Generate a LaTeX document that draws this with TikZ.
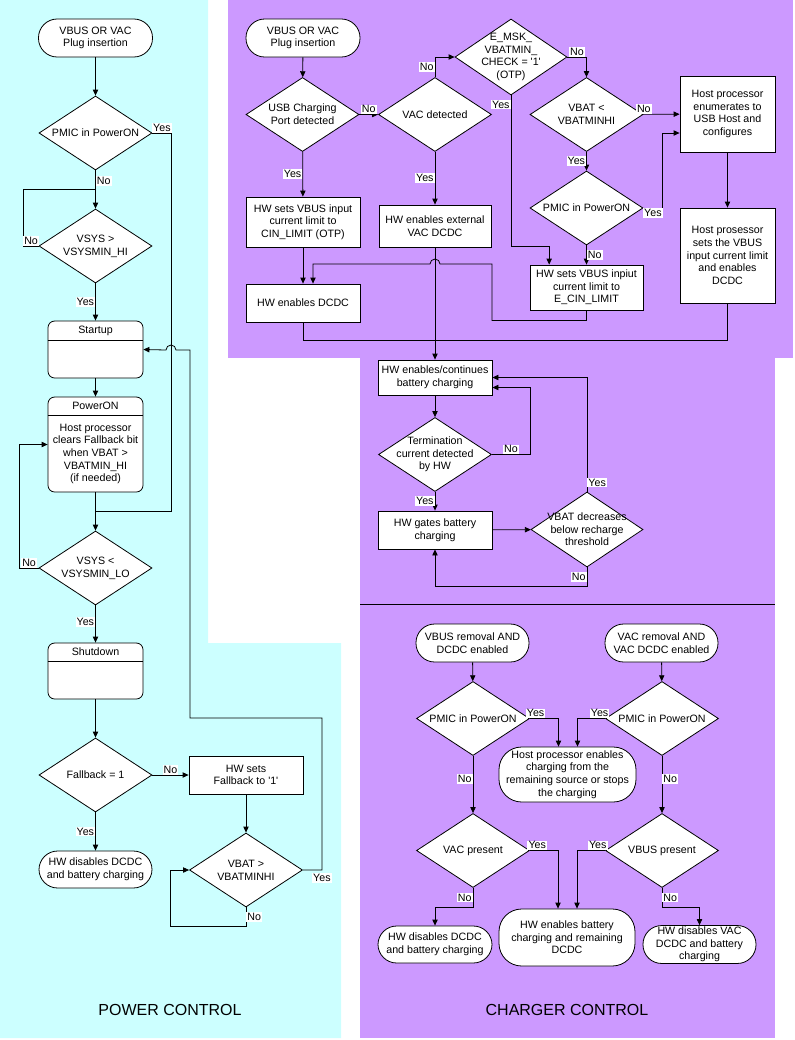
\documentclass[tikz,border=0pt]{standalone}
\usepackage{fontspec}
\setmainfont{Liberation Sans}
\usepackage{xcolor}
\usetikzlibrary{shapes.geometric, positioning, calc, arrows.meta}

\definecolor{cyanbg}{HTML}{CCFFFF}
\definecolor{purplebg}{HTML}{CC99FF}

\begin{document}
\begin{tikzpicture}[x=0.75pt, y=-0.75pt, line width=0.6pt,
    >={Triangle[length=4.5pt,width=4pt]},
    every node/.style={font=\fontsize{8}{9.5}\selectfont},
    terminal/.style={rectangle, rounded corners=14pt, draw, fill=white, align=center, inner sep=1pt, minimum width=85.5pt, minimum height=28.5pt},
    decision/.style={diamond, draw, fill=white, align=center, inner sep=-12pt, minimum width=84.75pt, minimum height=55.5pt},
    process/.style={rectangle, draw, fill=white, align=center, inner sep=1pt, minimum width=85.5pt, minimum height=28.5pt},
    statebox/.style={rectangle, rounded corners=5pt, draw, fill=white, minimum width=71.25pt},
    lab/.style={fill=white, inner sep=0.8pt},
    bigtitle/.style={font=\fontsize{12}{14}\selectfont}]

    \useasboundingbox (0,0) rectangle (795,1040);

    % Background areas
    \fill[cyanbg] (0,0) -- (208,0) -- (208,643) -- (341,643) -- (341,1038) -- (0,1038) -- cycle;
    \fill[purplebg] (228,0) rectangle (793,358);
    \fill[purplebg] (360,358) rectangle (775,1038);
    \draw (360,604) -- (775,604);

    \node[bigtitle] (pctitle) at (170,1010) {POWER CONTROL};
    \node[bigtitle] (cctitle) at (567,1010) {CHARGER CONTROL};

    % Power control nodes
    \node[terminal] (start1) at (95.5,38) {VBUS OR VAC\\Plug insertion};
    \node[decision] (pmic1) at (95.5,133) {PMIC in PowerON};
    \node[decision] (vsyshi) at (95.5,246) {VSYS >\\VSYSMIN\_HI};
    \node[statebox, minimum height=42.75pt] (startup) at (95.5,349.5) {};
    \node (startuptitle) at ([yshift=-7.5pt]startup.north) {Startup};
    \draw ([yshift=-15pt]startup.north west) -- ([yshift=-15pt]startup.north east);
    \node[statebox, minimum height=71.25pt] (poweron) at (95.5,444.5) {};
    \node (powerontitle) at ([yshift=-7.1pt]poweron.north) {PowerON};
    \draw ([yshift=-14.25pt]poweron.north west) -- ([yshift=-14.25pt]poweron.north east);
    \node[align=center] (poweronbody) at (95.5,454) {Host processor\\clears Fallback bit\\when VBAT >\\VBATMIN\_HI\\(if needed)};
    \node[decision] (vsyslo) at (95.5,568) {VSYS <\\VSYSMIN\_LO};
    \node[statebox, minimum height=42pt] (shutdown) at (95.5,671) {};
    \node (shutdowntitle) at ([yshift=-7.1pt]shutdown.north) {Shutdown};
    \draw ([yshift=-14.25pt]shutdown.north west) -- ([yshift=-14.25pt]shutdown.north east);
    \node[decision] (fallback) at (95.5,775) {Fallback = 1};
    \node[process] (hwsets) at (246,775) {HW sets\\Fallback to \textquotesingle1\textquotesingle};
    \node[decision] (vbatb) at (246,870) {VBAT >\\VBATMINHI};
    \node[terminal, minimum width=84.75pt, minimum height=27.75pt] (hwdis1) at (95.5,869.5) {HW disables DCDC\\and battery charging};

    % Power control connectors
    \draw[->] (start1) -- (pmic1);
    \coordinate (j0) at ($(pmic1.south)!.5!(vsyshi.north)$);
    \draw[->] (pmic1) -- node[lab, right, pos=.28] {No} (vsyshi);
    \draw (vsyshi.west) -- node[lab, above] {No} ++(-15,0) |- (j0);
    \draw[->] (vsyshi) -- node[lab, left] {Yes} (startup);
    \draw[->] (startup) -- (poweron);
    \coordinate (j1) at ($(poweron.south)!.5!(vsyslo.north)$);
    \draw[->] (poweron) -- (vsyslo);
    \draw (pmic1.east) -- node[lab, above] {Yes} ++(19,0) |- (j1);
    \draw[->] (vsyslo.west) -- node[lab, above] {No} ++(-19,0) |- (poweron.west);
    \draw[->] (vsyslo) -- node[lab, left, pos=.45] {Yes} (shutdown);
    \draw[->] (shutdown) -- (fallback);
    \draw[->] (fallback) -- node[lab, above] {No} (hwsets);
    \draw[->] (hwsets) -- (vbatb);
    \draw[->] (vbatb.east) -- ++(19,0) node[lab, below=2pt] {Yes} |- (190,718) -- (190,350) -- (176,350) arc (0:-180:5) -- (startup.east);
    \draw[->] (vbatb.south) -- ++(0,19) node[lab, right, midway] {No} -| ([xshift=-14.25pt]vbatb.west) -- (vbatb.west);
    \draw[->] (fallback) -- node[lab, left] {Yes} (hwdis1);

    % Charger start-up nodes
    \node[terminal] (start2) at (303,38) {VBUS OR VAC\\Plug insertion};
    \node[decision] (usb) at (302.5,114.5) {USB Charging\\Port detected};
    \node[decision] (vacdet) at (435,114.5) {VAC detected};
    \node[decision, minimum width=84pt, minimum height=57pt] (emsk) at (511,57) {E\_MSK\_\\VBATMIN\_\\CHECK = \textquotesingle1\textquotesingle\\(OTP)};
    \node[decision] (vbatlt) at (586.5,114.5) {VBAT <\\VBATMINHI};
    \node[decision] (pmic2) at (586.5,208) {PMIC in PowerON};
    \node[process, minimum width=71.25pt, minimum height=57pt] (hostenum) at (727.5,114) {Host processor\\enumerates to\\USB Host and\\configures};
    \node[process, minimum width=71.25pt, minimum height=71.25pt] (hostsets) at (727.5,255.5) {Host prosessor\\sets the VBUS\\input current limit\\and enables\\DCDC};
    \node[process, minimum height=37.5pt] (cin) at (303,222) {HW sets VBUS input\\current limit to\\CIN\_LIMIT (OTP)};
    \node[process, minimum width=84pt, minimum height=31.5pt] (vacdcdc) at (435,226) {HW enables external\\VAC DCDC};
    \node[process] (dcdc) at (303,303) {HW enables DCDC};
    \node[process, minimum width=84.75pt, minimum height=33.75pt] (ecin) at (586.5,287.5) {HW sets VBUS inpiut\\current limit to\\E\_CIN\_LIMIT};

    % Charger start-up connectors
    \draw[->] (start2) -- (usb);
    \draw[->] (usb) -- node[lab, above] {No} (vacdet);
    \draw[->] (vacdet.north) |- node[lab, left, pos=.25] {No} (emsk.west);
    \draw[->] (emsk.east) -| node[lab, above, pos=.25] {No} (vbatlt.north);
    \draw[->] (emsk.south) -- node[lab, left, pos=.06] {Yes} (511,246) -| ([xshift=-28pt]ecin.north);
    \draw[->] (vbatlt) -- node[lab, above, pos=.02] {No} (hostenum);
    \draw[->] (vbatlt) -- node[lab, left] {Yes} (pmic2);
    \draw[->] (pmic2.east) -- node[lab, below] {Yes} ++(19,0) |- ([yshift=-14.25pt]hostenum.west);
    \draw[->] (pmic2) -- node[lab, right] {No} (ecin);
    \draw[->] (hostenum) -- (hostsets);
    \draw[->] (usb) -- node[lab, left] {Yes} (cin);
    \draw[->] (vacdet) -- node[lab, left] {Yes} (vacdcdc);
    \draw[->] (cin) -- (dcdc);
    \draw[->] (ecin.south) -- ++(0,10) -| (492,264) -- (440,264) arc (0:-180:5) -- (313,264) -- ([xshift=7.5pt]dcdc.north);
    \coordinate (j2) at (435,340);
    \draw (dcdc.south) |- (j2);
    \draw (hostsets.south) |- (j2);

    % Charging loop
    \node[process, minimum height=26.25pt] (charging) at (435,377.5) {HW enables/continues\\battery charging};
    \node[decision] (termdet) at (435,454.5) {Termination\\current detected\\by HW};
    \node[process] (gates) at (435,530) {HW gates battery\\charging};
    \node[decision, minimum width=84pt, minimum height=56.25pt] (vbatdec) at (587,529.5) {VBAT decreases\\below recharge\\threshold};

    \draw[->] (vacdcdc) -- (charging);
    \draw[->] (charging) -- (termdet);
    \draw[->] (termdet.east) -- node[lab, above] {No} ++(38,0) |- ([yshift=-7.5pt]charging.east);
    \draw[->] (termdet) -- node[lab, left] {Yes} (gates);
    \draw[->] (gates) -- (vbatdec);
    \draw[->] (vbatdec.north) |- node[lab, right, pos=.04] {Yes} (charging.east);
    \draw[->] (vbatdec.south) -- ++(0,19) node[lab, left, midway] {No} -| (gates.south);

    % Charger control nodes
    \node[terminal, minimum width=84.75pt] (vbusrem) at (472.5,643) {VBUS removal AND\\DCDC enabled};
    \node[terminal, minimum width=84.75pt] (vacrem) at (661.5,643) {VAC removal AND\\VAC DCDC enabled};
    \node[decision] (pmic3) at (473,718.5) {PMIC in PowerON};
    \node[decision] (pmic4) at (662,718.5) {PMIC in PowerON};
    \node[terminal, rounded corners=17pt, minimum width=102.75pt, minimum height=41.25pt] (hostsrc) at (567.5,774.5) {Host processor enables\\charging from the\\remaining source or stops\\the charging};
    \node[decision] (vacpres) at (473,850.5) {VAC present};
    \node[decision] (vbuspres) at (662,850.5) {VBUS present};
    \node[terminal, rounded corners=17pt, minimum width=102pt, minimum height=42.75pt] (hwbat) at (567,937.5) {HW enables battery\\charging and remaining\\DCDC};
    \node[terminal, minimum height=27.75pt] (hwdis2) at (435,944.5) {HW disables DCDC\\and battery charging};
    \node[terminal, minimum width=84.75pt, minimum height=27.75pt] (hwdis3) at (699.5,944.5) {HW disables VAC\\DCDC and battery\\charging};

    % Charger control connectors
    \draw[->] (vbusrem) -- (pmic3);
    \draw[->] (vacrem) -- (pmic4);
    \draw[->] (pmic3.east) -| node[lab, above, pos=.1] {Yes} ([xshift=-6.75pt]hostsrc.north);
    \draw[->] (pmic4.west) -| node[lab, above, pos=.1] {Yes} ([xshift=7.5pt]hostsrc.north);
    \draw[->] (pmic3) -- node[lab, left, pos=.4] {No} (vacpres);
    \draw[->] (pmic4) -- node[lab, right, pos=.4] {No} (vbuspres);
    \draw[->] (vacpres.east) -| node[lab, above, pos=.13] {Yes} ([xshift=-6.75pt]hwbat.north);
    \draw[->] (vbuspres.west) -| node[lab, above, pos=.13] {Yes} ([xshift=7.5pt]hwbat.north);
    \draw[->] (vacpres.south) -- ++(0,19) node[lab, left, midway] {No} -| (hwdis2.north);
    \draw[->] (vbuspres.south) -- ++(0,19) node[lab, right, midway] {No} -| (hwdis3.north);
\end{tikzpicture}
\end{document}
